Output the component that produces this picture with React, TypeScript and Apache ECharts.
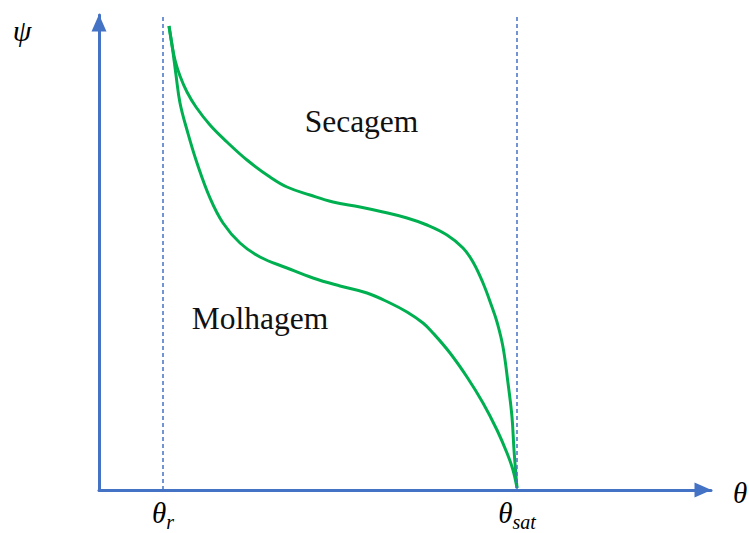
import React, { useEffect, useRef } from "react";
import * as echarts from "echarts";

// Data in axis units (x: 0..612, y: 0..475)
const dryingCurve: [number, number][] = [
  [70, 464], [73, 445], [76, 430], [81, 414], [88, 398], [97, 383], [111, 365], [128, 348],
  [148, 330], [171, 313], [188, 303], [211, 295], [234, 288], [261, 283], [284, 278],
  [308, 272], [328, 265], [348, 255], [364, 242], [374, 228], [384, 207], [393, 183],
  [398, 168], [404, 143], [409, 107], [413, 73], [415, 40], [418, 2],
];
const wettingCurve: [number, number][] = [
  [70, 464], [73, 445], [77, 415], [81, 387], [88, 360], [98, 327], [111, 292],
  [124, 267], [141, 247], [161, 233], [188, 222], [214, 212], [241, 204], [268, 197],
  [291, 187], [308, 178], [324, 167], [334, 157], [351, 137], [368, 113], [384, 87],
  [398, 60], [408, 37], [414, 20], [418, 2],
];
const tickValues = [64, 418];
const tickMain = ["θ", "θ"];
const tickSub = ["r", "sat"];
const curveNames = ["Secagem", "Molhagem"];

const AXIS_COLOR = "#4472C4";
const CURVE_COLOR = "#00B050";
const SERIF = "Liberation Serif";

export default function App() {
  const ref = useRef<HTMLDivElement>(null);
  useEffect(() => {
    if (!ref.current) return;
    const chart = echarts.init(ref.current, undefined, { renderer: "svg" });
    const axisLine = {
      show: true,
      symbol: ["none", "triangle"],
      symbolSize: [15, 17],
      symbolOffset: [0, -8],
      lineStyle: { color: AXIS_COLOR, width: 3 },
    };
    const dashStyle = { color: AXIS_COLOR, width: 1.5, type: [4, 3], opacity: 1 };
    chart.setOption({
      animation: false,
      grid: { left: 99, right: 38, top: 15, bottom: 43, containLabel: false },
      xAxis: {
        type: "value",
        min: 0,
        max: 612,
        axisLine,
        axisTick: { show: false },
        splitLine: { show: false },
        axisLabel: {
          show: true,
          customValues: tickValues,
          margin: 8,
          formatter: (v: number) => {
            const i = tickValues.indexOf(v);
            if (i < 0) return "";
            return `{t|${tickMain[i]}}{s|${tickSub[i]}}`;
          },
          rich: {
            t: { fontFamily: SERIF, fontStyle: "italic", fontSize: 29, lineHeight: 30, color: "#000", verticalAlign: "top" },
            s: { fontFamily: SERIF, fontStyle: "italic", fontSize: 20, lineHeight: 20, color: "#000", verticalAlign: "top", padding: [14, 0, 0, 0] },
          },
        },
      },
      yAxis: {
        type: "value",
        min: 0,
        max: 475,
        axisLine,
        axisTick: { show: false },
        splitLine: { show: false },
        axisLabel: { show: false },
      },
      graphic: [
        { type: "text", x: 22, y: 30, style: { text: "ψ", font: "italic 30px 'Liberation Serif'", fill: "#000", align: "center", verticalAlign: "middle" } },
        { type: "text", x: 740, y: 493, style: { text: "θ", font: "italic 29px 'Liberation Serif'", fill: "#000", align: "center", verticalAlign: "middle" } },
        { type: "text", x: 361.5, y: 121.5, style: { text: curveNames[0], font: "31.5px 'Liberation Serif'", fill: "#111", align: "center", verticalAlign: "middle" } },
        { type: "text", x: 260, y: 318.5, style: { text: curveNames[1], font: "31.5px 'Liberation Serif'", fill: "#111", align: "center", verticalAlign: "middle" } },
      ],
      series: [
        {
          name: curveNames[0],
          type: "line",
          data: dryingCurve,
          smooth: 0.4,
          showSymbol: false,
          lineStyle: { color: CURVE_COLOR, width: 3 },
          markLine: {
            silent: true,
            symbol: ["none", "none"],
            label: { show: false },
            lineStyle: dashStyle,
            data: tickValues.map((v) => ({ xAxis: v, lineStyle: dashStyle })),
          },
        },
        {
          name: curveNames[1],
          type: "line",
          data: wettingCurve,
          smooth: 0.4,
          showSymbol: false,
          lineStyle: { color: CURVE_COLOR, width: 3 },
        },
      ],
    });
    return () => chart.dispose();
  }, []);
  return <div ref={ref} style={{ width: 749, height: 533, position: "absolute", left: 0, top: 0 }} />;
}
